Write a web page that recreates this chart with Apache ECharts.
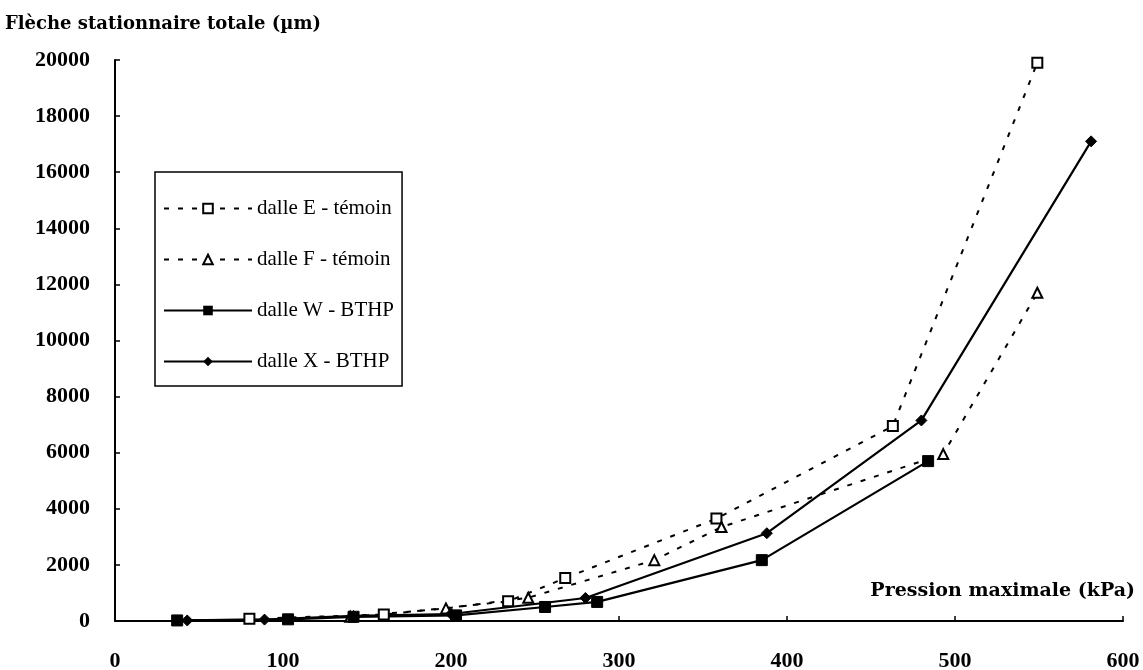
<!DOCTYPE html>
<html>
<head>
<meta charset="utf-8">
<script src="https://cdn.jsdelivr.net/npm/echarts@6/dist/echarts.min.js"></script>
<style>html,body{margin:0;padding:0;background:#fff}#c{width:1143px;height:670px}</style>
</head>
<body>
<div id="c"></div>
<script>
// Data (x: Pression maximale kPa, y: Flèche µm)
const seriesNames = ['dalle E - témoin', 'dalle F - témoin', 'dalle W - BTHP', 'dalle X - BTHP'];
const eX = [80, 160, 234, 268, 358, 463, 549];
const eY = [80, 230, 700, 1530, 3650, 6950, 19900];
const fX = [140, 197, 246, 321, 361, 493, 549];
const fY = [150, 450, 830, 2170, 3350, 5950, 11700];
const wX = [37, 103, 142, 203, 256, 287, 385, 484];
const wY = [20, 60, 150, 200, 500, 680, 2170, 5700];
const xX = [43, 89, 142, 200, 280, 388, 480, 581];
const xY = [20, 50, 180, 250, 820, 3130, 7150, 17100];
const xTicks = [0, 100, 200, 300, 400, 500, 600];
const yTicks = [0, 2000, 4000, 6000, 8000, 10000, 12000, 14000, 16000, 18000, 20000];

const zip = (a, b) => a.map((v, i) => [v, b[i]]);
const font = "'Liberation Serif', 'Times New Roman', serif";
const headFont = "'DejaVu Serif', serif";
const tickText = { fontFamily: font, fontSize: 22, fontWeight: 'bold', color: '#000' };

const chart = echarts.init(document.getElementById('c'));
chart.setOption({
  animation: false,
  backgroundColor: '#fff',
  title: {
    text: 'Flèche stationnaire totale (µm)',
    left: 0, top: 10,
    textStyle: { fontFamily: headFont, fontSize: 18, fontWeight: 'bold', color: '#000' }
  },
  grid: { left: 115, right: 20, top: 60, bottom: 49, containLabel: false, outerBoundsMode: 'none' },
  legend: {
    orient: 'vertical',
    left: 155, top: 172,
    padding: [26, 8, 14, 8],
    itemWidth: 88, itemHeight: 12, itemGap: 30,
    borderColor: '#000', borderWidth: 1.5,
    textStyle: { fontFamily: font, fontSize: 21, color: '#000' },
    data: seriesNames
  },
  xAxis: {
    type: 'value', min: 0, max: 600, interval: 100,
    name: 'Pression maximale (kPa)',
    nameLocation: 'end', nameGap: 12,
    nameTextStyle: { fontFamily: headFont, fontSize: 19, fontWeight: 'bold', color: '#000',
      align: 'right', verticalAlign: 'bottom', padding: [0, 0, 20, 0] },
    axisLine: { lineStyle: { color: '#000', width: 2 } },
    axisTick: { inside: true, length: 5, lineStyle: { color: '#000', width: 1.5 } },
    axisLabel: Object.assign({ margin: 29, formatter: v => xTicks.includes(v) ? String(v) : '' }, tickText),
    splitLine: { show: false }
  },
  yAxis: {
    type: 'value', min: 0, max: 20000, interval: 2000,
    axisLine: { show: true, lineStyle: { color: '#000', width: 2 } },
    axisTick: { show: true, inside: true, length: 5, lineStyle: { color: '#000', width: 1.5 } },
    axisLabel: Object.assign({ margin: 25, formatter: v => yTicks.includes(v) ? String(v) : '' }, tickText),
    splitLine: { show: false }
  },
  series: [
    { name: seriesNames[0], type: 'line', data: zip(eX, eY), symbol: 'rect', symbolSize: 10,
      itemStyle: { color: '#fff', borderColor: '#000', borderWidth: 2 },
      lineStyle: { color: '#000', width: 2, type: [5, 9] } },
    { name: seriesNames[1], type: 'line', data: zip(fX, fY), symbol: 'triangle', symbolSize: 10,
      itemStyle: { color: '#fff', borderColor: '#000', borderWidth: 2 },
      lineStyle: { color: '#000', width: 2, type: [5, 9] } },
    { name: seriesNames[2], type: 'line', data: zip(wX, wY), symbol: 'rect', symbolSize: 11,
      itemStyle: { color: '#000', borderColor: '#000' },
      lineStyle: { color: '#000', width: 2.2 } },
    { name: seriesNames[3], type: 'line', data: zip(xX, xY), symbol: 'diamond', symbolSize: 11,
      itemStyle: { color: '#000', borderColor: '#000' },
      lineStyle: { color: '#000', width: 2.2 } }
  ]
});
</script>
</body>
</html>
